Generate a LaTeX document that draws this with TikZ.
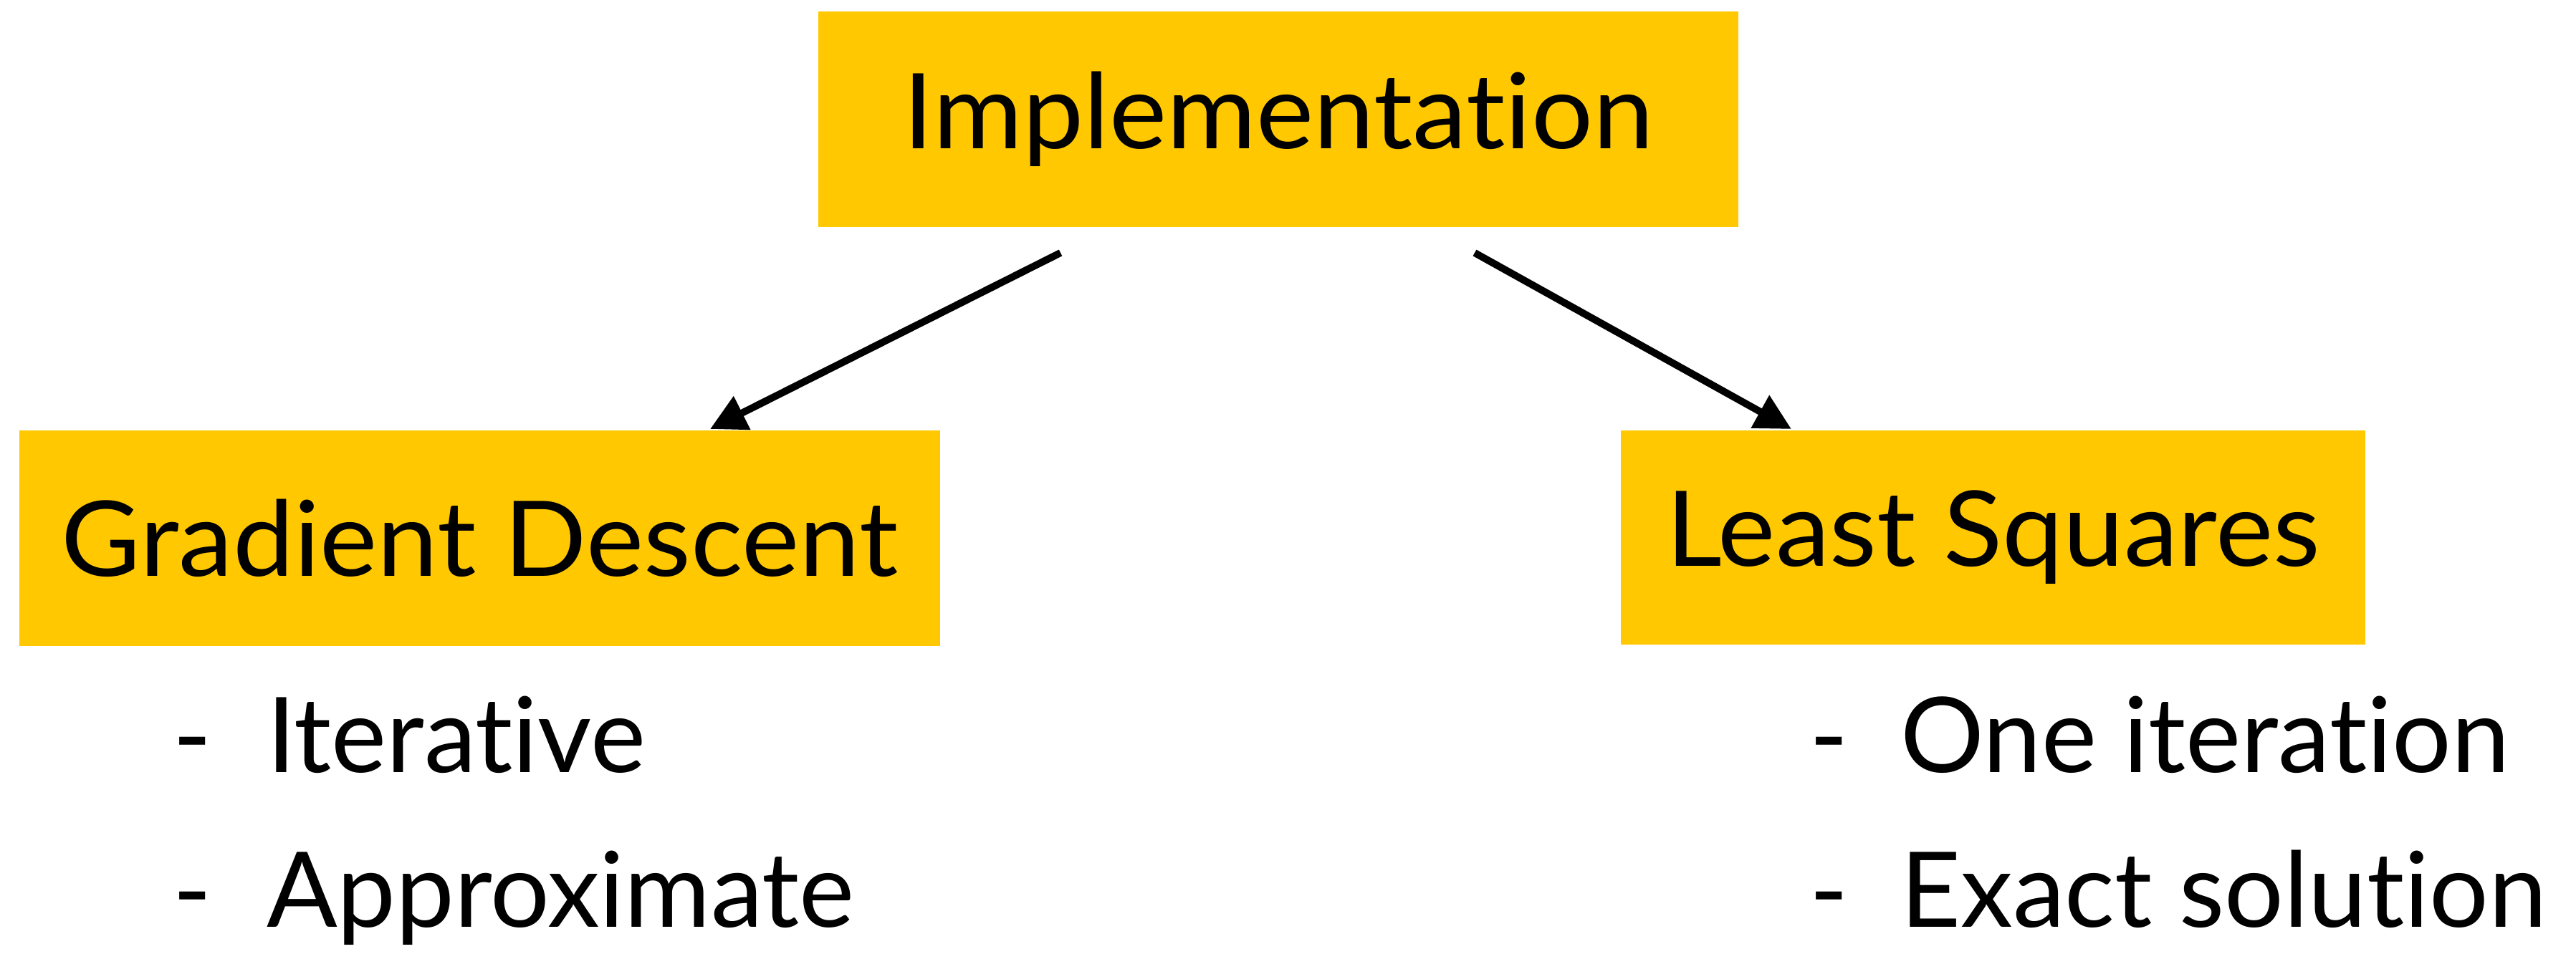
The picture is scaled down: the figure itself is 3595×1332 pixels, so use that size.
\documentclass[tikz,border=0pt]{standalone}
\usepackage{fontspec}
\setmainfont{Lato}[Ligatures={NoCommon},FakeStretch=1.04]
\newfontfamily\bulletfont{Lato}[Ligatures={NoCommon}]
\usetikzlibrary{arrows.meta,calc}
\definecolor{boxyellow}{HTML}{FFC800}
\begin{document}
\begin{tikzpicture}[x=0.1pt,y=-0.1pt,
  box/.style={fill=boxyellow, inner sep=0pt, font=\fontsize{14.6pt}{17pt}\selectfont},
  txt/.style={inner sep=0pt, anchor=base west, font=\bulletfont\fontsize{14.6pt}{17pt}\selectfont},
  arr/.style={line width=1pt, -{Triangle[length=5pt,width=5pt]}}]
\useasboundingbox (0,0) rectangle (3595,1332);
\node[box, minimum width=128.4pt, minimum height=30.1pt] (impl) at (1784,166.5) {Implementation};
\node[box, minimum width=128.5pt, minimum height=30.1pt] (gd) at (669.5,751.5) {Gradient Descent};
\node[box, minimum width=103.9pt, minimum height=29.9pt] (ls) at (2781.5,750.5) {Least Squares};
\coordinate (s1) at (1480,353);
\coordinate (s2) at (2058,353);
\path (gd.north west) ++(966,0) coordinate (e1);
\path (ls.north west) ++(240,0) coordinate (e2);
\draw[arr] (s1) -- (e1);
\draw[arr] (s2) -- (e2);
\node[txt] (d1) at (240,1078) {-};
\node[txt] (t1) at (370,1078) {Iterative};
\node[txt] (d2) at (240,1294) {-};
\node[txt] (t2) at (370,1294) {Approximate};
\node[txt] (d3) at (2523,1078) {-};
\node[txt] (t3) at (2650,1078) {One iteration};
\node[txt] (d4) at (2523,1294) {-};
\node[txt] (t4) at (2650,1294) {Exact solution};
\end{tikzpicture}
\end{document}
